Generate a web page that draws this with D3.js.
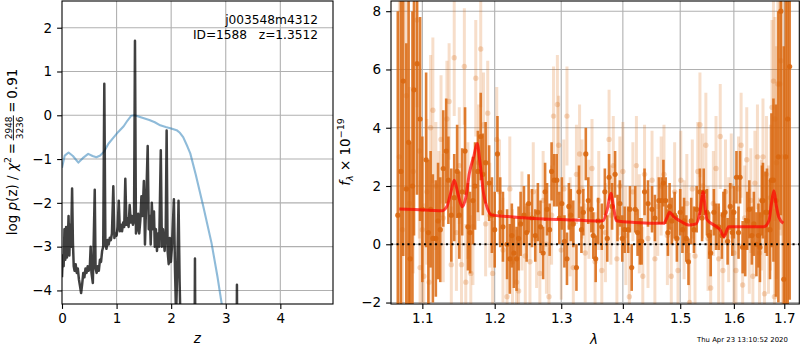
<!DOCTYPE html>
<html>
<head>
<meta charset="utf-8">
<script src="https://cdn.jsdelivr.net/npm/d3@7"></script>
<style>
  body { margin: 0; background: #fff; }
  text { font-family: "DejaVu Sans", sans-serif; }
</style>
</head>
<body>
<script>

// ---- left panel: redshift probability
var pzZ = [0.00, 0.015, 0.03, 0.045, 0.06, 0.075, 0.09, 0.105, 0.12, 0.135, 0.15, 0.165, 0.185, 0.20, 0.215, 0.23, 0.25, 0.27, 0.29, 0.31,
  0.33, 0.35, 0.37, 0.39, 0.41, 0.43, 0.45, 0.47, 0.49, 0.51, 0.525, 0.54, 0.565, 0.60, 0.615, 0.635, 0.655, 0.675, 0.695, 0.715,
  0.735, 0.755, 0.775, 0.795, 0.815, 0.835, 0.855, 0.875, 0.895, 0.915, 0.94, 0.96, 0.98, 1.00, 1.02, 1.04, 1.06, 1.08, 1.10, 1.12,
  1.14, 1.16, 1.18, 1.20, 1.22, 1.24, 1.26, 1.28, 1.30, 1.32, 1.337, 1.355, 1.375, 1.395, 1.415, 1.435, 1.455, 1.475, 1.50, 1.52,
  1.54, 1.57, 1.59, 1.61, 1.625, 1.645, 1.665, 1.685, 1.70, 1.72, 1.74, 1.76, 1.78, 1.81, 1.83, 1.85, 1.88, 1.90, 1.917, 1.935,
  1.955, 1.975, 1.995, 2.015, 2.05, 2.07, 2.09, 2.11, 2.135, 2.155, 2.175, 2.20, 2.42, 2.436, 2.452, 3.19, 3.205, 3.22, 4.96];
var pzLog = [-3.70, -3.20, -3.45, -2.60, -3.30, -2.55, -3.25, -2.95, -2.30, -3.20, -2.50, -3.00, -1.67, -2.90, -3.45, -3.55, -3.40, -3.60, -3.50, -3.75,
  -3.90, -4.06, -3.85, -3.60, -3.70, -3.50, -3.60, -3.45, -3.55, -3.45, -3.00, -3.60, -3.83, -1.70, -3.50, -3.60, -3.45, -3.55, -3.30, -3.35,
  -3.10, -3.00, 0.72, -2.95, -3.05, -2.85, -2.95, -2.80, -2.85, -2.70, -1.62, -2.80, -2.70, -2.75, -2.55, -1.95, -2.65, -2.50, -2.65, -2.45,
  -2.55, -1.45, -2.50, -2.35, -2.55, -2.05, -2.45, -2.30, -2.50, -2.40, 1.70, -2.70, -2.60, -2.25, -2.70, -2.40, -1.85, -2.30, -1.50, -2.95,
  -2.10, -0.70, -2.60, -2.30, -2.95, -2.00, -2.60, -2.20, -3.00, -2.60, -3.10, -2.70, -3.00, -0.80, -3.00, -2.60, -3.10, -2.70, -0.35, -3.10,
  -3.40, -2.80, -3.35, -3.00, -1.92, -3.50, -4.60, -3.60, -1.95, -3.80, -5.00, -8.00, -8.00, -3.27, -8.00, -8.00, -3.87, -8.00, -8.00];

var chiZ = [0.00, 0.05, 0.12, 0.20, 0.30, 0.38, 0.48, 0.56, 0.63, 0.70, 0.77, 0.85, 0.95, 1.03, 1.13, 1.20, 1.27, 1.33, 1.40, 1.50,
  1.60, 1.70, 1.80, 1.90, 2.00, 2.10, 2.16, 2.22, 2.30, 2.35, 2.45, 2.59, 2.74, 2.85, 2.95];
var chiLog = [-1.20, -0.92, -0.85, -0.93, -1.08, -0.98, -0.88, -0.93, -0.96, -0.92, -0.83, -0.65, -0.50, -0.38, -0.25, -0.12, -0.01, 0.00, -0.03, -0.07,
  -0.11, -0.16, -0.23, -0.27, -0.30, -0.34, -0.40, -0.50, -0.72, -0.87, -1.35, -2.09, -2.92, -3.70, -4.50];

var zTicks = [0, 1, 2, 3, 4];
var pzTicks = [-4, -3, -2, -1, 0, 1, 2];

// ---- right panel: spectrum
var darkWave = [1.068, 1.072, 1.075, 1.079, 1.082, 1.084, 1.087, 1.089, 1.093, 1.097, 1.100, 1.105, 1.108, 1.111, 1.114, 1.118, 1.121, 1.124, 1.128, 1.132,
  1.135, 1.139, 1.143, 1.147, 1.150, 1.154, 1.158, 1.162, 1.165, 1.169, 1.172, 1.176, 1.180, 1.183, 1.187, 1.192, 1.196, 1.200, 1.204, 1.208,
  1.212, 1.218, 1.222, 1.225, 1.228, 1.232, 1.235, 1.238, 1.243, 1.247, 1.250, 1.255, 1.260, 1.264, 1.268, 1.272, 1.275, 1.278, 1.282, 1.285,
  1.289, 1.293, 1.297, 1.301, 1.305, 1.309, 1.312, 1.315, 1.319, 1.324, 1.328, 1.332, 1.335, 1.339, 1.343, 1.348, 1.351, 1.355, 1.359, 1.365,
  1.370, 1.374, 1.377, 1.382, 1.387, 1.391, 1.395, 1.399, 1.403, 1.409, 1.412, 1.415, 1.421, 1.425, 1.429, 1.432, 1.437, 1.443, 1.450, 1.455,
  1.462, 1.467, 1.470, 1.474, 1.478, 1.481, 1.485, 1.490, 1.494, 1.500, 1.504, 1.507, 1.511, 1.515, 1.520, 1.525, 1.530, 1.536, 1.540, 1.543,
  1.549, 1.553, 1.556, 1.562, 1.566, 1.571, 1.577, 1.580, 1.583, 1.588, 1.593, 1.597, 1.600, 1.605, 1.609, 1.612, 1.617, 1.622, 1.626, 1.630,
  1.635, 1.639, 1.644, 1.648, 1.651, 1.655, 1.657, 1.662, 1.665, 1.671, 1.674, 1.678, 1.683, 1.688, 1.693, 1.699, 1.703, 1.707, 1.711];
var darkFlux = [1.0, 2.5, 5.6, 1.9, 3.5, -0.5, 2.0, 5.3, 6.2, 4.3, 1.2, 2.9, 0.4, 1.2, 0.2, 0.2, 0.8, 0.5, 2.6, 3.2,
  2.2, 1.0, 1.6, 2.5, 1.0, 1.8, 3.2, 0.6, 0.4, 1.5, 2.0, 2.5, 3.7, 2.4, 2.8, 2.1, 1.0, 0.5, 3.1, 1.1,
  0.6, 0.0, -0.5, 0.3, -0.3, -0.5, 0.2, 0.7, 1.0, 0.4, 1.4, 0.9, 0.3, 1.1, 0.6, -0.3, 1.8, 1.2, 0.5, 2.5,
  2.2, 2.2, 0.9, 1.4, 0.1, -0.5, 1.3, 1.0, 0.7, -0.8, 1.8, 0.5, 1.1, 3.1, 1.5, 1.2, 0.3, -0.5, 0.8, 0.6,
  1.8, 0.2, 2.3, 1.3, 2.4, 0.9, 1.4, 0.2, 0.5, 0.5, 1.2, -0.8, 1.2, 0.4, 0.1, 0.1, 1.8, 1.4, 1.2, 0.9,
  1.5, 1.5, 2.1, 1.5, 0.4, 1.3, 0.8, 1.0, 0.2, 1.1, 0.5, 0.8, 0.2, -0.6, 0.8, 0.5, 1.2, 1.8, 0.9, 1.8,
  1.1, 0.3, -0.3, 1.1, 0.6, 0.6, 0.3, 1.0, 1.1, 0.1, 1.3, 0.4, 1.1, 2.3, 0.4, 2.3, -0.1, -0.1, 0.8, 1.2,
  0.3, 0.7, 0.0, 0.3, -0.1, 1.5, 1.5, 1.1, 1.1, 0.5, 2.2, 2.2, 1.5, 3.0, 8.0, -1.2, 3.0, 4.3, 6.1];
var darkErr = [7.0, 6.0, 6.0, 5.0, 6.0, 4.0, 6.0, 5.0, 4.5, 3.5, 2.5, 3.0, 2.5, 2.0, 2.2, 2.0, 2.0, 1.8, 2.0, 1.8,
  1.5, 1.6, 1.5, 1.6, 1.5, 1.5, 1.5, 1.5, 1.4, 1.5, 1.5, 1.4, 1.5, 1.4, 1.4, 1.3, 1.3, 1.3, 1.3, 1.2,
  1.2, 1.2, 1.2, 1.1, 1.2, 1.1, 1.1, 1.1, 1.0, 1.0, 1.0, 1.0, 0.9, 1.0, 0.9, 0.9, 1.0, 0.9, 0.9, 1.0,
  0.9, 0.9, 0.9, 0.9, 0.9, 0.9, 0.8, 0.9, 0.8, 0.8, 0.9, 0.8, 0.8, 0.9, 0.8, 0.8, 0.8, 0.8, 0.8, 0.8,
  0.8, 0.8, 0.8, 0.8, 0.8, 0.8, 0.8, 0.8, 0.8, 0.8, 0.8, 0.8, 0.8, 0.8, 0.8, 0.8, 0.8, 0.8, 0.8, 0.8,
  0.8, 0.8, 0.8, 0.8, 0.8, 0.8, 0.8, 0.8, 0.8, 0.8, 0.8, 0.8, 0.8, 0.8, 0.8, 0.8, 0.8, 0.8, 0.8, 0.8,
  0.8, 0.8, 0.8, 0.8, 0.8, 0.8, 0.8, 0.8, 0.8, 0.8, 0.8, 0.8, 0.9, 0.9, 0.9, 0.9, 0.9, 1.0, 1.0, 1.0,
  1.0, 1.1, 1.1, 1.1, 1.2, 1.2, 1.3, 1.4, 1.5, 1.7, 2.3, 2.8, 3.3, 5.0, 7.0, 8.0, 8.0, 8.0, 8.0];

var lightWave = [1.070, 1.074, 1.079, 1.083, 1.088, 1.093, 1.096, 1.097, 1.100, 1.102, 1.106, 1.109, 1.111, 1.114, 1.118, 1.122, 1.125, 1.128, 1.133, 1.136,
  1.139, 1.143, 1.146, 1.150, 1.153, 1.157, 1.159, 1.162, 1.166, 1.169, 1.173, 1.177, 1.180, 1.184, 1.187, 1.190, 1.193, 1.197, 1.203, 1.207,
  1.212, 1.218, 1.222, 1.226, 1.232, 1.235, 1.240, 1.245, 1.252, 1.257, 1.262, 1.267, 1.272, 1.277, 1.281, 1.285, 1.288, 1.294, 1.296, 1.300,
  1.304, 1.309, 1.314, 1.319, 1.324, 1.329, 1.333, 1.338, 1.344, 1.349, 1.354, 1.360, 1.365, 1.371, 1.377, 1.380, 1.384, 1.390, 1.395, 1.400,
  1.405, 1.411, 1.417, 1.423, 1.428, 1.434, 1.437, 1.443, 1.450, 1.455, 1.460, 1.466, 1.471, 1.477, 1.484, 1.490, 1.496, 1.501, 1.507, 1.512,
  1.517, 1.522, 1.527, 1.532, 1.536, 1.541, 1.547, 1.551, 1.556, 1.561, 1.566, 1.571, 1.574, 1.579, 1.584, 1.590, 1.595, 1.600, 1.604, 1.609,
  1.614, 1.617, 1.621, 1.625, 1.630, 1.633, 1.637, 1.641, 1.646, 1.650, 1.654, 1.657, 1.660, 1.664, 1.668, 1.672, 1.675, 1.678, 1.680, 1.681,
  1.684, 1.687, 1.691, 1.693, 1.696];
var lightFlux = [3.0, 0.5, 5.1, 1.4, 2.5, 7.7, 3.2, -0.8, 0.5, -1.1, 1.8, -1.3, 4.0, 4.6, 2.0, 1.0, 3.6, 0.9, 4.3, 4.9,
  -0.7, 6.4, 0.4, 2.7, -0.7, 6.1, -1.3, 1.5, -1.0, 0.6, 5.7, 2.8, 6.7, 4.1, 0.7, 4.5, 1.0, -1.0, 3.6, 1.8,
  -0.2, -1.8, 1.9, -0.6, -1.3, -1.6, 0.8, -0.4, -0.6, 1.8, 0.2, -1.0, 1.5, 0.0, -1.8, 1.0, 4.4, 4.8, 3.4, -0.2,
  1.9, 4.4, 0.6, -0.8, 2.4, 3.1, 1.9, -0.3, 1.2, 2.6, -0.6, 1.5, -0.9, 0.4, 3.6, 1.0, 2.7, -0.5, 2.0, 2.5,
  0.3, -1.8, 1.8, 2.7, 0.7, -1.1, 2.4, 0.2, 2.2, -0.5, 1.3, 2.0, 2.4, 0.3, -1.1, 1.8, -0.9, 2.2, 0.5, 1.4,
  -2.0, 1.9, -0.4, 2.5, 4.1, 2.0, 3.4, 0.2, -1.5, 1.4, 2.6, -0.5, 3.7, -0.9, 1.8, 0.5, 2.0, -0.3, -0.9, 1.9,
  3.4, -1.4, 0.9, 2.9, 0.1, 1.5, -1.1, 2.1, 3.0, -0.3, 1.0, 3.0, -1.7, 2.4, 0.5, 1.6, 4.7, 5.6, -1.8, 4.3,
  2.8, 5.5, 5.5, 6.3, 3.0];
var lightErr = [6.0, 5.0, 4.0, 4.0, 3.5, 3.0, 3.0, 3.0, 2.5, 2.5, 2.5, 2.5, 2.5, 2.5, 2.2, 2.2, 2.2, 2.2, 2.0, 2.0,
  2.0, 2.0, 2.0, 2.0, 2.0, 2.0, 2.0, 2.0, 2.0, 2.0, 2.0, 2.0, 2.0, 1.8, 1.8, 1.8, 1.8, 1.8, 1.8, 1.8,
  1.8, 1.8, 1.8, 1.8, 1.8, 1.8, 1.7, 1.7, 1.7, 1.7, 1.7, 1.7, 1.7, 1.7, 1.7, 1.7, 1.7, 1.7, 1.7, 1.7,
  1.7, 1.7, 1.7, 1.7, 1.7, 1.7, 1.7, 1.7, 1.7, 1.7, 1.7, 1.7, 1.7, 1.7, 1.7, 1.7, 1.7, 1.7, 1.7, 1.7,
  1.7, 1.7, 1.7, 1.7, 1.7, 1.7, 1.7, 1.7, 1.7, 1.7, 1.7, 1.7, 1.7, 1.7, 1.7, 1.7, 1.7, 1.7, 1.7, 1.7,
  1.7, 1.7, 1.7, 1.7, 1.8, 1.8, 1.8, 1.8, 1.8, 1.8, 1.8, 1.8, 1.8, 1.8, 1.8, 1.8, 1.8, 1.8, 1.8, 1.8,
  1.8, 1.8, 1.8, 1.8, 1.8, 1.8, 1.8, 1.8, 1.8, 1.9, 1.9, 2.0, 2.0, 2.0, 2.2, 2.5, 3.0, 3.5, 3.0, 3.5,
  4.0, 4.5, 5.0, 6.0, 6.0];

var modelWave = [1.070, 1.09, 1.11, 1.126, 1.133, 1.138, 1.143, 1.148, 1.154, 1.159, 1.164, 1.170, 1.175, 1.179, 1.184, 1.190, 1.196, 1.22, 1.252, 1.30,
  1.357, 1.367, 1.374, 1.380, 1.385, 1.389, 1.42, 1.471, 1.476, 1.481, 1.488, 1.50, 1.515, 1.529, 1.536, 1.542, 1.546, 1.549, 1.562, 1.574,
  1.581, 1.590, 1.62, 1.659, 1.669, 1.674, 1.679, 1.684, 1.689, 1.698];
var modelFlux = [1.21, 1.19, 1.17, 1.15, 1.30, 1.75, 2.20, 1.75, 1.29, 1.60, 2.44, 3.00, 3.46, 2.80, 1.75, 1.20, 1.00, 0.95, 0.89, 0.85,
  0.80, 0.81, 1.20, 1.75, 1.20, 0.81, 0.75, 0.72, 0.90, 1.10, 0.95, 0.80, 0.66, 0.70, 1.10, 1.80, 1.20, 0.85, 0.66, 0.49,
  0.26, 0.60, 0.60, 0.60, 0.81, 1.40, 1.84, 1.30, 0.93, 0.72];

var lamTicks = [1.1, 1.2, 1.3, 1.4, 1.5, 1.6, 1.7];
var fluxTicks = [-2, 0, 2, 4, 6, 8];

var gridColor = "#b0b0b0";
var darkOrange = "#d9670f";
var fs = 13.5;

var svg = d3.select("body").append("svg")
  .attr("width", 800)
  .attr("height", 350);

var defs = svg.append("defs");

function panel(id, x0, x1, y0, y1) {
  defs.append("clipPath").attr("id", id).append("rect")
    .attr("x", x0).attr("y", y0).attr("width", x1 - x0).attr("height", y1 - y0);
}

function grid(g, xs, ys, xt, yt) {
  var xr = xs.range(), yr = ys.range();
  g.selectAll(null).data(xt).enter().append("line")
    .attr("x1", function(d) { return xs(d); }).attr("x2", function(d) { return xs(d); })
    .attr("y1", yr[0]).attr("y2", yr[1])
    .attr("stroke", gridColor).attr("stroke-width", 1.1);
  g.selectAll(null).data(yt).enter().append("line")
    .attr("y1", function(d) { return ys(d); }).attr("y2", function(d) { return ys(d); })
    .attr("x1", xr[0]).attr("x2", xr[1])
    .attr("stroke", gridColor).attr("stroke-width", 1.1);
}

function axes(xs, ys, xt, yt, xf, yf) {
  var yr = ys.range(), xr = xs.range();
  var ax = svg.append("g").attr("transform", "translate(0," + yr[0] + ")")
    .call(d3.axisBottom(xs).tickValues(xt).tickFormat(xf).tickSize(4.9).tickPadding(4.9));
  var ay = svg.append("g").attr("transform", "translate(" + xr[0] + ",0)")
    .call(d3.axisLeft(ys).tickValues(yt).tickFormat(yf).tickSize(4.9).tickPadding(4.9));
  [ax, ay].forEach(function(a) {
    a.select(".domain").remove();
    a.selectAll("line").attr("stroke", "#000").attr("stroke-width", 1.1);
    a.selectAll("text").attr("font-size", fs).attr("fill", "#000")
      .attr("font-family", "DejaVu Sans, sans-serif");
  });
  svg.append("rect")
    .attr("x", xr[0]).attr("y", yr[1])
    .attr("width", xr[1] - xr[0]).attr("height", yr[0] - yr[1])
    .attr("fill", "none").attr("stroke", "#000").attr("stroke-width", 1.1);
}

// ================= left panel
var x1 = d3.scaleLinear().domain([0, 4.965]).range([62, 333]);
var y1 = d3.scaleLinear().domain([-4.31, 2.61]).range([304, 1]);
panel("clipL", 62, 333, 1, 304);

var gl = svg.append("g");
grid(gl, x1, y1, zTicks.slice(1), pzTicks);

var pzPts = pzZ.map(function(z, i) { return [z, pzLog[i]]; });
var chiPts = chiZ.map(function(z, i) { return [z, chiLog[i]]; });
var lineL = d3.line().x(function(d) { return x1(d[0]); }).y(function(d) { return y1(d[1]); });

var plot = gl.append("g").attr("clip-path", "url(#clipL)");
plot.append("path").datum(chiPts).attr("d", lineL)
  .attr("fill", "none").attr("stroke", "#1f77b4").attr("stroke-opacity", 0.5)
  .attr("stroke-width", 2.1).attr("stroke-linejoin", "round");
plot.append("path").datum(pzPts).attr("d", lineL)
  .attr("fill", "none").attr("stroke", "#000").attr("stroke-opacity", 0.75)
  .attr("stroke-width", 2.5).attr("stroke-linejoin", "round");

axes(x1, y1, zTicks, pzTicks, d3.format("d"), d3.format("d"));

svg.append("text").attr("x", 318).attr("y", 24).attr("text-anchor", "end")
  .attr("font-size", 12.2).text("j003548m4312");
svg.append("text").attr("x", 318).attr("y", 39).attr("text-anchor", "end")
  .attr("font-size", 12.2).attr("xml:space", "preserve").text("ID=1588   z=1.3512");

svg.append("text").attr("x", x1(2.48)).attr("y", 343).attr("text-anchor", "middle")
  .attr("font-size", fs).attr("font-style", "italic").text("z");

// y label with fraction
var lab = svg.append("g").attr("transform", "translate(17,152) rotate(-90)");
var inner = lab.append("g");
var t1 = inner.append("text").attr("font-size", fs);
t1.append("tspan").text("log ");
t1.append("tspan").attr("font-style", "italic").text("p");
t1.append("tspan").text("(z) / ");
t1.append("tspan").attr("font-style", "italic").text("χ");
t1.append("tspan").attr("font-size", 9.5).attr("dy", -6).text("2");
t1.append("tspan").attr("dy", 6).text("\u2009=\u2009");
var w1 = t1.node().getComputedTextLength();
var num = inner.append("text").attr("font-size", 9).attr("y", -5.5).attr("text-anchor", "middle").text("2948");
var fw = num.node().getComputedTextLength() + 2;
num.attr("x", w1 + fw / 2);
inner.append("text").attr("font-size", 9).attr("y", 5.5).attr("x", w1 + fw / 2)
  .attr("text-anchor", "middle").text("3236");
inner.append("line").attr("x1", w1).attr("x2", w1 + fw).attr("y1", -3.6).attr("y2", -3.6)
  .attr("stroke", "#000").attr("stroke-width", 0.9);
var t3 = inner.append("text").attr("font-size", fs).attr("x", w1 + fw).text("\u2009=\u20090.91");
var total = w1 + fw + t3.node().getComputedTextLength();
inner.attr("transform", "translate(" + (-total / 2) + ",0)");

// ================= right panel
var x2 = d3.scaleLog().domain([1.0593, 1.731]).range([391, 799.3]);
var y2 = d3.scaleLinear().domain([-2.05, 8.35]).range([304, 1]);
panel("clipR", 391, 799.3, 1, 304);

var gr = svg.append("g");
grid(gr, x2, y2, lamTicks, fluxTicks);

var spec = gr.append("g").attr("clip-path", "url(#clipR)");

var light = lightWave.map(function(w, i) { return { w: w, f: lightFlux[i], e: lightErr[i] }; });
var dark = darkWave.map(function(w, i) { return { w: w, f: darkFlux[i], e: darkErr[i] }; });

spec.selectAll(".lbar").data(light).enter().append("line")
  .attr("x1", function(d) { return x2(d.w); }).attr("x2", function(d) { return x2(d.w); })
  .attr("y1", function(d) { return y2(d.f - d.e); }).attr("y2", function(d) { return y2(d.f + d.e); })
  .attr("stroke", darkOrange).attr("stroke-opacity", 0.22).attr("stroke-width", 3);
spec.selectAll(".lpt").data(light).enter().append("circle")
  .attr("cx", function(d) { return x2(d.w); }).attr("cy", function(d) { return y2(d.f); })
  .attr("r", 2.7).attr("fill", darkOrange).attr("fill-opacity", 0.25);

spec.selectAll(".dbar").data(dark).enter().append("line")
  .attr("x1", function(d) { return x2(d.w); }).attr("x2", function(d) { return x2(d.w); })
  .attr("y1", function(d) { return y2(d.f - d.e); }).attr("y2", function(d) { return y2(d.f + d.e); })
  .attr("stroke", darkOrange).attr("stroke-opacity", 0.85).attr("stroke-width", 2.6);
spec.selectAll(".dpt").data(dark).enter().append("circle")
  .attr("cx", function(d) { return x2(d.w); }).attr("cy", function(d) { return y2(d.f); })
  .attr("r", 2.6).attr("fill", darkOrange).attr("fill-opacity", 0.9);

var modelPts = modelWave.map(function(w, i) { return [w, modelFlux[i]]; });
spec.append("path").datum(modelPts)
  .attr("d", d3.line().curve(d3.curveMonotoneX).x(function(d) { return x2(d[0]); }).y(function(d) { return y2(d[1]); }))
  .attr("fill", "none").attr("stroke", "red").attr("stroke-opacity", 0.7)
  .attr("stroke-width", 3).attr("stroke-linejoin", "round");

spec.append("line")
  .attr("x1", 391).attr("x2", 799.3).attr("y1", y2(0)).attr("y2", y2(0))
  .attr("stroke", "#000").attr("stroke-width", 2.1).attr("stroke-dasharray", "2.1,3.4");

axes(x2, y2, lamTicks, fluxTicks, d3.format(".1f"), d3.format("d"));

svg.append("text").attr("x", 594).attr("y", 344).attr("text-anchor", "middle")
  .attr("font-size", fs).attr("font-style", "italic").text("λ");

var rl = svg.append("g").attr("transform", "translate(349.5,152) rotate(-90)");
var rt = rl.append("text").attr("font-size", fs).attr("text-anchor", "middle");
rt.append("tspan").attr("font-style", "italic").text("f");
rt.append("tspan").attr("font-size", 9.5).attr("font-style", "italic").attr("dy", 3).text("λ");
rt.append("tspan").attr("dy", -3).text(" × 10");
rt.append("tspan").attr("font-size", 9.5).attr("dy", -6).text("−19");

svg.append("text").attr("x", 697).attr("y", 342).attr("font-size", 6.9)
  .text("Thu Apr 23 13:10:52 2020");

</script>
</body>
</html>
